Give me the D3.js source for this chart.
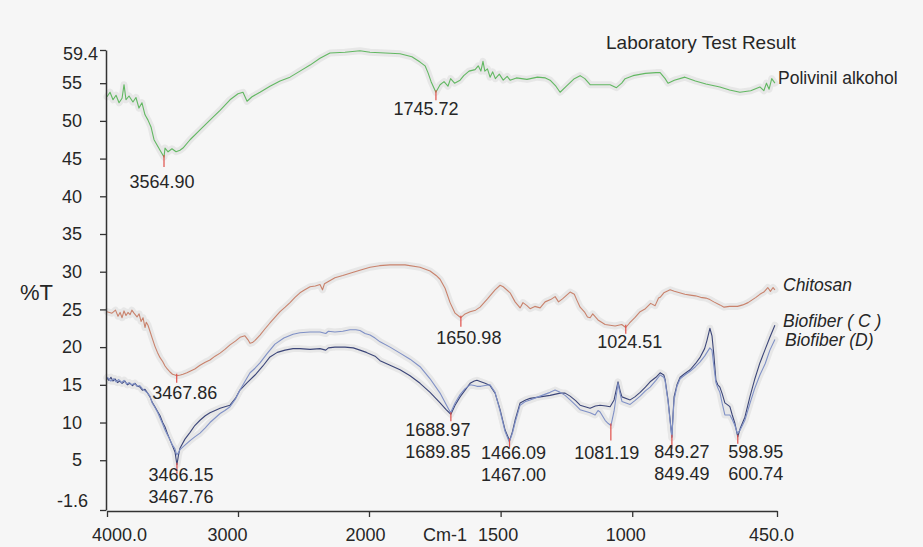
<!DOCTYPE html>
<html>
<head>
<meta charset="utf-8">
<script src="https://cdn.jsdelivr.net/npm/d3@7"></script>
<style>
body { margin: 0; background: #f6f6f6; }
svg { display: block; font-family: "Liberation Sans", Arial, sans-serif; }
</style>
</head>
<body>
<svg></svg>
<script>
// FTIR spectra, [wavenumber, %T]
const polivinil = [[4000,53.2],[3977,53.8],[3954,52.8],[3931,53.4],[3908,52.4],[3885,53.0],[3870,54.8],[3855,52.8],[3832,53.3],[3802,52.5],[3779,53.1],[3756,51.7],[3733,52.4],[3710,50.8],[3687,50.1],[3664,49.2],[3641,47.5],[3618,46.8],[3595,46.1],[3565,45.2],[3557,46.4],[3534,45.9],[3504,46.3],[3473,45.9],[3443,46.1],[3420,46.4],[3366,47.5],[3290,48.8],[3214,50.1],[3137,51.4],[3061,52.8],[3000,53.6],[2962,53.8],[2931,52.6],[2893,53.2],[2832,53.8],[2756,54.6],[2679,55.3],[2603,55.8],[2527,56.6],[2450,57.4],[2374,58.3],[2298,59.0],[2183,59.1],[2069,59.3],[1996,59.1],[1939,59.0],[1882,58.9],[1837,58.5],[1806,57.8],[1787,57.3],[1776,56.4],[1764,55.2],[1746,53.8],[1730,54.8],[1715,55.2],[1700,54.6],[1690,55.6],[1675,55.0],[1654,55.4],[1640,56.0],[1620,56.6],[1597,56.8],[1585,57.3],[1575,56.6],[1567,57.9],[1560,56.6],[1550,56.9],[1540,55.8],[1530,56.5],[1520,55.6],[1505,56.2],[1490,55.4],[1475,55.9],[1464,55.4],[1440,55.7],[1400,55.5],[1360,55.8],[1330,55.7],[1312,55.4],[1290,54.6],[1274,53.8],[1250,54.6],[1220,55.6],[1198,56.0],[1180,55.6],[1160,54.8],[1120,54.8],[1084,54.8],[1060,54.4],[1040,55.0],[1027,55.6],[997,56.0],[950,56.3],[910,56.4],[894,56.4],[875,55.6],[864,55.0],[840,55.4],[800,55.8],[760,55.3],[720,54.9],[667,54.5],[630,54.1],[591,53.8],[550,54.0],[515,54.5],[500,54.0],[490,55.0],[480,54.2],[470,55.6],[458,55.0]]

const chitosan = [[4000,24.7],[3962,24.5],[3935,24.9],[3916,24.1],[3900,24.6],[3885,23.9],[3870,24.8],[3855,24.2],[3840,24.6],[3824,24.3],[3810,24.9],[3794,24.5],[3771,24.0],[3755,24.4],[3740,23.4],[3725,23.9],[3710,22.6],[3700,23.3],[3687,22.9],[3672,22.1],[3655,21.2],[3634,20.1],[3615,19.3],[3595,18.6],[3575,18.1],[3557,17.5],[3540,17.1],[3519,16.7],[3500,16.4],[3481,16.3],[3468,16.2],[3440,16.3],[3420,16.4],[3390,16.6],[3366,16.8],[3330,17.1],[3290,17.6],[3250,18.0],[3214,18.3],[3175,18.8],[3137,19.2],[3100,19.7],[3061,20.3],[3020,20.8],[2985,21.3],[2947,21.5],[2925,21.0],[2908,20.5],[2890,20.6],[2870,20.9],[2832,21.6],[2795,22.4],[2756,23.2],[2720,23.9],[2679,24.7],[2640,25.3],[2603,25.9],[2565,26.6],[2527,27.2],[2490,27.6],[2450,28.0],[2410,28.1],[2374,28.3],[2355,27.6],[2340,28.4],[2300,28.8],[2260,29.2],[2200,29.5],[2145,29.8],[2070,30.2],[1996,30.6],[1960,30.8],[1920,30.9],[1863,30.9],[1806,30.6],[1768,30.1],[1745,29.5],[1730,29.0],[1711,27.8],[1692,25.9],[1673,24.5],[1651,23.9],[1635,24.4],[1616,24.7],[1595,24.9],[1578,25.3],[1550,26.4],[1521,27.6],[1502,28.2],[1490,28.0],[1464,27.2],[1445,26.0],[1426,25.2],[1415,25.9],[1400,25.5],[1388,25.1],[1370,25.4],[1350,25.2],[1331,26.0],[1310,26.3],[1293,26.7],[1280,26.0],[1265,26.4],[1236,27.3],[1220,27.0],[1210,26.2],[1198,25.3],[1180,24.6],[1170,24.0],[1160,23.9],[1150,24.4],[1130,23.6],[1103,23.0],[1065,22.8],[1040,23.0],[1024.5,22.6],[1010,23.2],[990,23.9],[970,24.7],[950,25.1],[930,25.8],[913,25.5],[900,26.5],[894,26.6],[880,27.2],[856,27.6],[840,27.4],[820,27.2],[800,27.0],[780,26.9],[760,26.8],[740,26.6],[720,26.5],[705,26.3],[690,26.0],[667,25.6],[651,25.3],[630,25.4],[600,25.4],[580,25.6],[560,25.9],[530,26.6],[515,27.0],[500,27.3],[485,27.9],[475,27.4],[465,27.9],[458,27.6]]

const biofiberC = [[4000,15.9],[3985,15.6],[3970,16.0],[3955,15.5],[3939,15.8],[3920,15.3],[3901,15.5],[3885,15.2],[3863,15.5],[3845,15.0],[3824,15.2],[3805,14.9],[3786,15.2],[3767,14.8],[3748,14.7],[3730,14.3],[3710,14.4],[3690,13.9],[3672,13.4],[3655,12.7],[3634,12.1],[3615,11.5],[3595,10.9],[3575,10.0],[3557,9.4],[3540,8.6],[3519,7.7],[3500,6.9],[3481,6.1],[3466,4.4],[3455,5.6],[3443,6.6],[3405,7.8],[3366,8.7],[3330,9.6],[3290,10.3],[3250,10.9],[3214,11.3],[3175,11.6],[3137,11.9],[3100,12.1],[3061,12.3],[3020,13.2],[2985,14.3],[2930,15.3],[2870,16.3],[2810,17.5],[2756,18.7],[2700,19.3],[2641,19.6],[2580,19.8],[2527,19.8],[2450,19.7],[2374,19.8],[2330,19.6],[2310,19.9],[2260,20.0],[2183,20.0],[2120,19.9],[2069,19.6],[2020,19.3],[1977,18.8],[1958,18.2],[1920,17.6],[1882,17.0],[1844,16.2],[1806,15.2],[1768,14.0],[1730,12.6],[1707,11.7],[1689,11.1],[1673,12.3],[1654,13.4],[1635,14.3],[1616,15.2],[1600,15.5],[1590,15.6],[1575,15.4],[1559,15.2],[1540,14.9],[1521,13.9],[1502,11.7],[1483,9.0],[1466,7.6],[1455,8.8],[1445,10.3],[1426,12.6],[1405,13.0],[1388,13.2],[1350,13.4],[1312,13.6],[1274,13.9],[1255,13.9],[1236,13.5],[1215,12.9],[1198,12.3],[1160,11.9],[1140,12.2],[1122,12.3],[1100,12.2],[1084,12.1],[1069,13.0],[1054,15.4],[1046,14.2],[1039,13.4],[1008,13.0],[990,13.4],[970,14.0],[950,14.7],[932,15.4],[910,16.0],[894,16.6],[880,16.3],[875,15.7],[864,13.0],[855,10.0],[849.3,8.1],[845,11.0],[841,13.4],[830,15.0],[818,16.0],[800,16.5],[780,17.0],[760,17.8],[743,18.6],[725,19.8],[716,20.9],[705,22.5],[697,21.5],[690,19.0],[682,15.6],[675,15.0],[667,14.7],[658,13.8],[648,12.6],[640,12.4],[629,12.1],[620,11.0],[610,9.9],[599,8.1],[590,9.2],[572,10.7],[553,13.4],[535,15.7],[515,17.9],[495,19.7],[477,21.3],[458,22.9]]

const biofiberD = [[4000,16.0],[3985,15.8],[3970,15.5],[3950,15.8],[3930,15.4],[3910,15.7],[3890,15.3],[3870,15.6],[3850,15.1],[3830,15.3],[3810,15.0],[3790,15.2],[3770,14.8],[3750,14.9],[3730,14.5],[3710,14.2],[3690,13.9],[3672,13.5],[3655,12.6],[3634,12.0],[3615,11.4],[3595,10.6],[3575,9.8],[3557,9.0],[3540,8.4],[3519,7.7],[3500,7.0],[3481,6.5],[3468,5.7],[3455,6.0],[3443,6.4],[3405,7.0],[3366,7.6],[3330,8.1],[3290,8.6],[3250,9.3],[3214,10.0],[3175,10.6],[3137,11.2],[3100,11.6],[3061,12.1],[3020,13.1],[2985,14.3],[2945,15.5],[2908,16.6],[2870,17.2],[2832,17.9],[2775,19.2],[2718,20.4],[2650,21.2],[2580,21.7],[2527,21.9],[2450,22.0],[2374,22.0],[2330,21.8],[2310,22.1],[2260,22.0],[2200,22.1],[2145,22.3],[2100,22.3],[2069,22.2],[2030,21.8],[1996,21.6],[1977,21.2],[1958,20.7],[1920,20.0],[1882,19.2],[1844,18.4],[1806,17.4],[1768,15.8],[1730,13.9],[1707,12.4],[1690,11.3],[1673,12.6],[1654,13.7],[1635,14.5],[1616,15.0],[1600,14.9],[1590,14.8],[1575,14.8],[1559,14.9],[1540,15.0],[1521,14.0],[1502,11.5],[1483,8.8],[1467,7.4],[1455,8.6],[1445,10.0],[1426,12.3],[1405,12.8],[1388,13.0],[1350,13.5],[1312,14.0],[1293,14.3],[1274,14.0],[1255,13.6],[1236,13.0],[1215,12.3],[1198,11.7],[1160,11.3],[1141,11.0],[1130,11.6],[1122,11.4],[1103,10.3],[1092,9.9],[1081,9.6],[1069,11.5],[1054,15.2],[1046,13.8],[1039,12.8],[1008,12.4],[990,12.9],[970,13.5],[950,14.2],[932,14.7],[910,15.6],[894,16.3],[880,16.0],[875,15.5],[864,12.8],[855,9.8],[849.5,8.0],[845,10.8],[841,13.0],[830,14.8],[818,15.8],[800,16.3],[780,16.8],[760,17.4],[743,18.0],[725,18.8],[716,19.3],[705,19.9],[697,19.6],[690,17.5],[682,15.3],[675,14.6],[667,14.0],[658,12.5],[648,11.0],[640,11.0],[629,11.0],[620,10.4],[610,9.6],[600.7,8.6],[590,9.0],[572,10.3],[553,12.5],[535,14.5],[515,16.3],[495,17.8],[477,19.6],[458,21.0]]

const seriesNames = ['Polivinil alkohol', 'Chitosan', 'Biofiber ( C )', 'Biofiber (D)']

// peak markers: wavenumber, %T at the dip, label lines
const peakWn = [3564.90, 1745.72, 3467.86, 1650.98, 1024.51, 3466.15, 1688.97, 1466.09, 1081.19, 849.27, 598.95]
const peakT = [45.2, 53.8, 16.2, 23.9, 22.7, 4.4, 11.1, 7.6, 9.6, 8.1, 8.1]
const peakText = [['3564.90'], ['1745.72'], ['3467.86'], ['1650.98'], ['1024.51'],
  ['3466.15', '3467.76'], ['1688.97', '1689.85'], ['1466.09', '1467.00'],
  ['1081.19'], ['849.27', '849.49'], ['598.95', '600.74']]

const xTicks = [4000, 3000, 2000, 1500, 1000, 450]
const xTickLabels = ['4000.0', '3000', '2000', '1500', '1000', '450.0']
const yTicks = [59.4, 55, 50, 45, 40, 35, 30, 25, 20, 15, 10, 5, -1.6]

//SVG
const svg = d3.select('svg').attr('width', 923).attr('height', 547)
svg.append('rect').attr('width', 923).attr('height', 547).attr('fill', '#f6f6f6')

// wavenumber axis changes scale at 2000
const x = d3.scaleLinear().domain([4000, 2000, 450]).range([107, 369, 777])
const y = d3.scaleLinear().domain([-1.6, 59.4]).range([510, 50])

const line = d3.line().x(d => x(d[0])).y(d => y(d[1]))

const all = [polivinil, chitosan, biofiberC, biofiberD]
const colors = ['#62b862', '#c9826c', '#3c4679', '#7f90c6']

// soft grey halo behind traces
svg.append('g').selectAll('path').data(all).join('path')
   .attr('d', line).attr('fill', 'none')
   .attr('stroke', '#e7e7e7').attr('stroke-width', 7)
   .attr('stroke-linejoin', 'round').attr('stroke-linecap', 'round')

svg.append('g').selectAll('path').data(all).join('path')
   .attr('d', line).attr('fill', 'none')
   .attr('stroke', (d, i) => colors[i]).attr('stroke-width', 1.1)
   .attr('stroke-linejoin', 'round')

// axes
const xLabelDx = [12, -11, -4, -3, -7, -6]
const xAxis = svg.append('g').attr('transform', 'translate(0,511)')
   .call(d3.axisBottom(x).tickValues(xTicks).tickFormat((d, i) => xTickLabels[i])
      .tickSize(6).tickSizeOuter(0).tickPadding(11))
xAxis.select('.domain').attr('stroke', '#333').attr('stroke-width', 1.5)
xAxis.selectAll('line').attr('stroke', '#333').attr('stroke-width', 1.3)
xAxis.selectAll('text').attr('font-size', 18).attr('fill', '#262626').attr('font-family', null)
   .attr('dx', (d, i) => xLabelDx[i])

const yAxis = svg.append('g').attr('transform', 'translate(106,0)')
   .call(d3.axisLeft(y).tickValues(yTicks).tickFormat(d => d)
      .tickSize(6).tickSizeOuter(0).tickPadding(18))
yAxis.select('.domain').attr('stroke', '#333').attr('stroke-width', 1.5)
yAxis.selectAll('line').attr('stroke', '#333').attr('stroke-width', 1.3)
yAxis.selectAll('text').attr('font-size', 18).attr('fill', '#262626').attr('font-family', null)
   .attr('dx', d => d === 59.4 ? 16 : d === -1.6 ? 6 : 0)
   .attr('dy', d => d === -1.6 ? '-0.18em' : d === 59.4 ? '0.5em' : '0.32em')

svg.append('text').attr('x', 20).attr('y', 300).attr('font-size', 22).attr('fill', '#262626').text('%T')
svg.append('text').attr('x', 423).attr('y', 541).attr('font-size', 18).attr('fill', '#262626').text('Cm-1')
svg.append('text').attr('x', 606).attr('y', 49).attr('font-size', 19).attr('fill', '#262626')
   .text('Laboratory Test Result')

// series names at the right end of each trace
const nameDx = [-5, 0, 0, 2]
const nameDy = [1, 1, 2, 6]
svg.append('g').selectAll('text').data(all).join('text')
   .attr('x', (d, i) => 783 + nameDx[i])
   .attr('y', (d, i) => y(d[d.length - 1][1]) + nameDy[i])
   .attr('font-size', 17.5)
   .attr('font-style', (d, i) => i === 0 ? 'normal' : 'italic')
   .attr('fill', '#262626')
   .text((d, i) => seriesNames[i])

// peak ticks and labels
const peakDx = [-2, -10, 8, 8, 4, 4, -13, 4, -4, 10, 18]
const peakDy = [31, 23, 23, 26, 21, 16, 22, 18, 33, 21, 21]
const peakTick = [10, 8, 7, 9, 7, 9, 7, 7, 15, 12, 7]
const peaks = svg.append('g')
peaks.selectAll('line').data(peakWn).join('line')
   .attr('x1', d => x(d)).attr('x2', d => x(d))
   .attr('y1', (d, i) => y(peakT[i]) - 2)
   .attr('y2', (d, i) => y(peakT[i]) + peakTick[i])
   .attr('stroke', '#e0504a').attr('stroke-width', 1.2)
peaks.selectAll('text').data(peakWn).join('text')
   .attr('x', (d, i) => x(d) + peakDx[i])
   .attr('y', (d, i) => y(peakT[i]) + peakDy[i])
   .attr('text-anchor', 'middle').attr('font-size', 18).attr('fill', '#262626')
   .selectAll('tspan').data((d, i) => peakText[i]).join('tspan')
   .attr('x', function() { return this.parentNode.getAttribute('x') })
   .attr('dy', (d, j) => j === 0 ? 0 : 22)
   .text(d => d)
</script>
</body>
</html>
